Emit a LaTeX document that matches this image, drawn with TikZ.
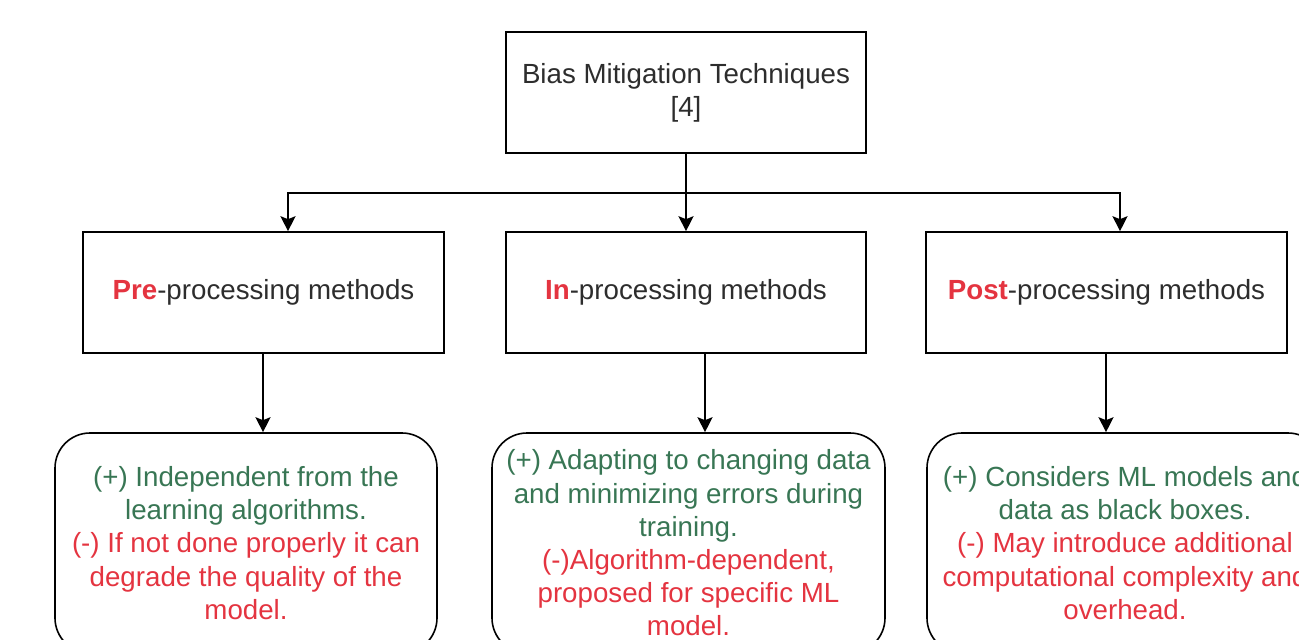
\documentclass[tikz,border=0pt]{standalone}
\usepackage{fontspec}
\setmainfont{Liberation Sans}
\usetikzlibrary{positioning,calc,arrows.meta}
\definecolor{prosgreen}{RGB}{56,118,84}
\definecolor{consred}{RGB}{228,52,64}
\definecolor{labelgray}{RGB}{45,45,45}
\tikzset{font=\fontsize{27.7}{33.2}\selectfont}

\begin{document}
\begin{tikzpicture}[x=1pt, y=-1pt, line width=1.6pt]
	\useasboundingbox (0,0) rectangle (1299,640);
	\clip (0,0) rectangle (1299,640);
	\begin{scope}
		\tikzstyle{every node}=[align=center, inner sep=0pt, text=labelgray]
		\tikzstyle{box}=[draw, minimum height=121pt]
		\tikzstyle{info}=[draw, rounded corners=35pt, minimum height=220pt]
		\tikzstyle{arr}=[-{Stealth[length=15pt, width=15pt, inset=3pt]}]
		\node[box, minimum width=360pt] (top) at (686, 92.5) {Bias Mitigation Techniques\\\relax [4]};
		\node[box, minimum width=361pt] (pre) at (263.5, 292.5) {\textcolor{consred}{\bfseries Pre}-processing methods};
		\node[box, minimum width=360pt] (in) at (686, 292.5) {\textcolor{consred}{\bfseries In}-processing methods};
		\node[box, minimum width=361pt] (post) at (1106.5, 292.5) {\textcolor{consred}{\bfseries Post}-processing methods};
		
		\node[info, minimum width=382pt] (preinfo) at (246, 543) {\color{prosgreen}(+) Independent from the\\\color{prosgreen}learning algorithms.\\\color{consred}(-) If not done properly it can\\\color{consred}degrade the quality of the\\\color{consred}model.};
		\node[info, minimum width=393pt] (ininfo) at (688.5, 543) {\color{prosgreen}(+) Adapting to changing data\\\color{prosgreen}and minimizing errors during\\\color{prosgreen}training.\\\color{consred}(-)Algorithm-dependent,\\\color{consred}proposed for specific ML\\\color{consred}model.};
		\node[info, minimum width=396pt] (postinfo) at (1125, 543) {\color{prosgreen}(+) Considers ML models and\\\color{prosgreen}data as black boxes.\\\color{consred}(-) May introduce additional\\\color{consred}computational complexity and\\\color{consred}overhead.};
		
		\coordinate (split) at (686, 193);
		\draw[arr] (top.south) -- (split) -| ([xshift=24.5pt]pre.north);
		\draw[arr] (top.south) -- (in.north);
		\draw[arr] (split) -| ([xshift=13.5pt]post.north);
		\draw[arr] ([xshift=-0.5pt]pre.south) -- ([xshift=-0.5pt]pre.south |- preinfo.north);
		\draw[arr] ([xshift=19pt]in.south) -- ([xshift=19pt]in.south |- ininfo.north);
		\draw[arr] ([xshift=-0.5pt]post.south) -- ([xshift=-0.5pt]post.south |- postinfo.north);
	\end{scope}
\end{tikzpicture}
\end{document}
